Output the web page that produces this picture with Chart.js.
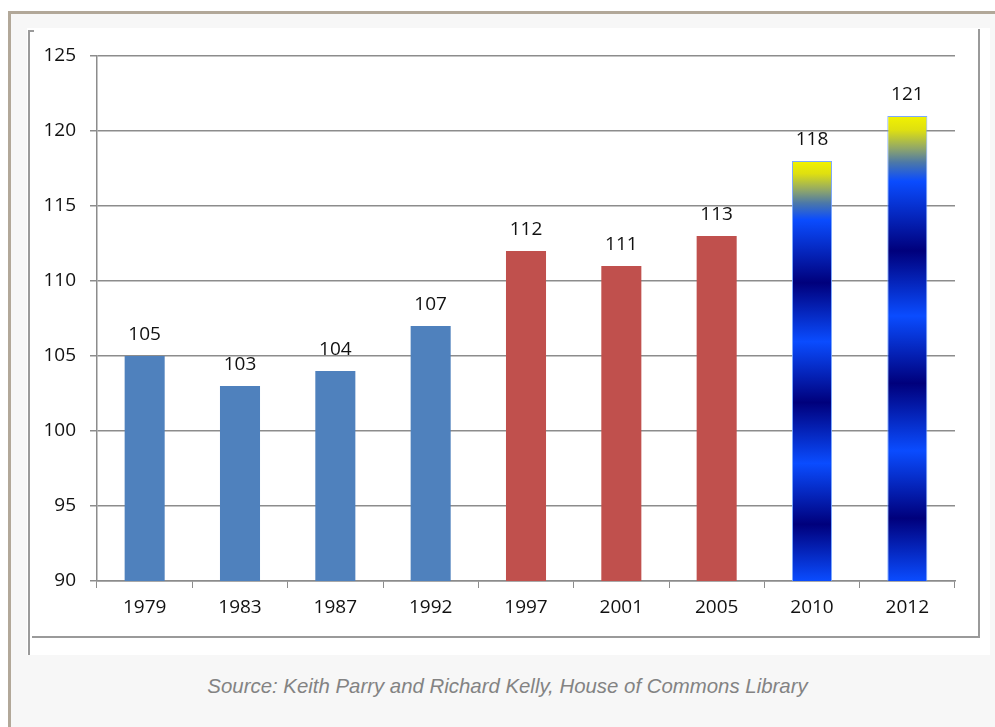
<!DOCTYPE html>
<html>
<head>
<meta charset="utf-8">
<script src="https://cdn.jsdelivr.net/npm/chart.js@4"></script>
<style>
  html, body { margin: 0; padding: 0; background: #ffffff; width: 995px; height: 727px; overflow: hidden; }
  #frame { position: absolute; left: 8px; top: 11px; width: 1000px; height: 730px; border-top: 3px solid #b2a899; border-left: 3px solid #b2a899; background: #f7f7f7; box-sizing: border-box; }
  #panel { position: absolute; left: 27px; top: 28px; width: 963px; height: 627px; background: #ffffff; }
  .ln { position: absolute; background: #9a9a9a; }
  #wrap { position: absolute; left: 30px; top: 30px; width: 950px; height: 606px; }
  #caption { position: absolute; left: 0; width: 1015px; top: 673px; text-align: center; font-family: "Liberation Sans", Arial, sans-serif; font-style: italic; font-size: 20.4px; line-height: 26px; color: #838383; }
</style>
</head>
<body>
<div id="frame"></div>
<div id="panel"></div>
<div class="ln" style="left:28px;top:31px;width:2px;height:624px;"></div>
<div class="ln" style="left:28px;top:30px;width:6px;height:2px;"></div>
<div class="ln" style="left:32px;top:636px;width:948px;height:2px;"></div>
<div class="ln" style="left:978px;top:29px;width:2px;height:609px;"></div>
<div id="wrap"><canvas id="c"></canvas></div>
<div id="caption">Source: Keith Parry and Richard Kelly, House of Commons Library</div>
<script>
const years = ["1979", "1983", "1987", "1992", "1997", "2001", "2005", "2010", "2012"];
const seats = [105, 103, 104, 107, 112, 111, 113, 118, 121];
const yTicks = [90, 95, 100, 105, 110, 115, 120, 125];

const BLUE = "#4f81bd";
const RED = "#c0504d";
const FONT = "'Open Sans', sans-serif";

function barColor(ctx) {
  const i = ctx.dataIndex;
  if (i <= 3) return BLUE;
  if (i <= 6) return RED;
  const chart = ctx.chart;
  if (!chart.chartArea || !chart.scales.y) return "#0a4cff";
  const ys = chart.scales.y;
  const top = ys.getPixelForValue(seats[i]);
  const bot = ys.getPixelForValue(yTicks[0]);
  const g = chart.ctx.createLinearGradient(0, top, 0, bot);
  g.addColorStop(0.0, "#f2f200");
  g.addColorStop(0.03, "#dfe010");
  g.addColorStop(0.07, "#8fa66a");
  g.addColorStop(0.10, "#4c78a8");
  g.addColorStop(0.14, "#0a4cff");
  g.addColorStop(0.29, "#00007c");
  g.addColorStop(0.43, "#0a4cff");
  g.addColorStop(0.575, "#00007c");
  g.addColorStop(0.72, "#0a4cff");
  g.addColorStop(0.865, "#00007c");
  g.addColorStop(1.0, "#0a4cff");
  return g;
}

const valueLabels = {
  id: "valueLabels",
  afterDatasetsDraw(chart) {
    const ctx = chart.ctx;
    const meta = chart.getDatasetMeta(0);
    ctx.save();
    ctx.font = "19px " + FONT;
    ctx.fillStyle = "#111111";
    ctx.textAlign = "center";
    ctx.textBaseline = "middle";
    meta.data.forEach((bar, i) => {
      ctx.fillText(String(seats[i]), bar.x, bar.y - 21);
    });
    ctx.restore();
  }
};

new Chart(document.getElementById("c"), {
  type: "bar",
  data: {
    labels: years,
    datasets: [{
      data: seats,
      backgroundColor: barColor,
      borderColor: (ctx) => ctx.dataIndex >= 7 ? "rgba(110,160,255,0.9)" : "rgba(0,0,0,0)",
      borderWidth: (ctx) => ctx.dataIndex >= 7 ? 1 : 0,
      borderSkipped: false,
      barPercentage: 0.42,
      categoryPercentage: 1.0
    }]
  },
  options: {
    responsive: true,
    maintainAspectRatio: false,
    animation: false,
    devicePixelRatio: 1,
    layout: { padding: { top: 26, right: 25, left: 0, bottom: 0 } },
    plugins: { legend: { display: false }, tooltip: { enabled: false } },
    scales: {
      x: {
        offset: true,
        grid: { display: true, drawOnChartArea: false, drawTicks: true, tickLength: 7, color: "#8c8c8c", offset: true },
        border: { display: true, color: "#8c8c8c", width: 1.5 },
        ticks: { color: "#111111", font: { family: FONT, size: 19 }, padding: 8, maxRotation: 0 },
        afterFit(scale) { scale.height = 55; }
      },
      y: {
        min: 90,
        max: 125,
        afterBuildTicks(scale) { scale.ticks = yTicks.map(v => ({ value: v })); },
        grid: { color: "#8c8c8c", lineWidth: 1.5, drawTicks: true, tickLength: 7 },
        border: { display: true, color: "#8c8c8c", width: 1.5 },
        ticks: { color: "#111111", font: { family: FONT, size: 19 }, padding: 14 },
        afterFit(scale) { scale.width = 67; }
      }
    }
  },
  plugins: [valueLabels]
});
</script>
</body>
</html>
